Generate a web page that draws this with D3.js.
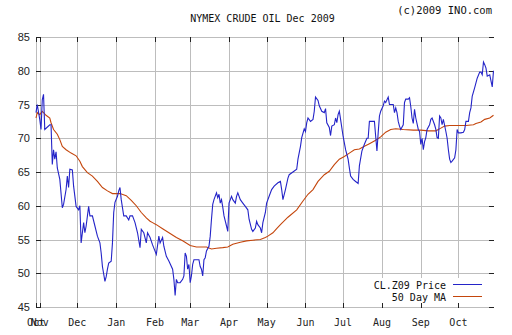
<!DOCTYPE html>
<html><head><meta charset="utf-8">
<script src="https://cdn.jsdelivr.net/npm/d3@7/dist/d3.min.js"></script>
<style>body{margin:0;background:#fff}svg{display:block}</style>
</head><body><div id="chart"></div>
<script>
const title = "NYMEX CRUDE OIL Dec 2009";
const copyright = "(c)2009 INO.com";
const seriesNames = ["CL.Z09 Price", "50 Day MA"];
const yTicks = [45, 50, 55, 60, 65, 70, 75, 80, 85];
const xStart = "2008-10-29", xEnd = "2009-10-29";
const monthTicks = ["2008-10-29","2008-11-01","2008-12-01","2009-01-01","2009-02-01","2009-03-01","2009-04-01","2009-05-01","2009-06-01","2009-07-01","2009-08-01","2009-09-01","2009-10-01"];

const priceDates = ["2008-10-29","2008-10-30","2008-11-01","2008-11-02","2008-11-03","2008-11-04","2008-11-05","2008-11-09","2008-11-10","2008-11-11","2008-11-12","2008-11-13","2008-11-14","2008-11-15","2008-11-17","2008-11-19","2008-11-20","2008-11-22","2008-11-23","2008-11-24","2008-11-25","2008-11-27","2008-11-28","2008-11-30",
"2008-12-02","2008-12-03","2008-12-04","2008-12-05","2008-12-06","2008-12-07","2008-12-08","2008-12-10","2008-12-11","2008-12-13","2008-12-15","2008-12-17","2008-12-19","2008-12-20","2008-12-21","2008-12-23","2008-12-24","2008-12-25","2008-12-26","2008-12-28","2008-12-29","2008-12-30","2008-12-31",
"2009-01-02","2009-01-03","2009-01-04","2009-01-05","2009-01-07","2009-01-09","2009-01-11","2009-01-12","2009-01-14","2009-01-16","2009-01-18","2009-01-20","2009-01-21","2009-01-23","2009-01-25","2009-01-26","2009-01-28","2009-01-30",
"2009-02-02","2009-02-04","2009-02-05","2009-02-07","2009-02-08","2009-02-10","2009-02-12","2009-02-15","2009-02-16","2009-02-17","2009-02-18","2009-02-19","2009-02-21","2009-02-23","2009-02-24","2009-02-25","2009-02-26","2009-02-27","2009-02-28",
"2009-03-01","2009-03-02","2009-03-03","2009-03-04","2009-03-06","2009-03-08","2009-03-09","2009-03-10","2009-03-11","2009-03-12","2009-03-13","2009-03-14","2009-03-16","2009-03-17","2009-03-18","2009-03-19","2009-03-20","2009-03-22","2009-03-23","2009-03-24","2009-03-25","2009-03-26","2009-03-27","2009-03-28","2009-03-30","2009-03-31",
"2009-04-01","2009-04-03","2009-04-04","2009-04-06","2009-04-07","2009-04-08","2009-04-10","2009-04-12","2009-04-14","2009-04-16","2009-04-17","2009-04-19","2009-04-20","2009-04-22","2009-04-23","2009-04-24","2009-04-26","2009-04-27","2009-04-28","2009-04-30",
"2009-05-01","2009-05-03","2009-05-05","2009-05-07","2009-05-10","2009-05-12","2009-05-13","2009-05-14","2009-05-16","2009-05-18","2009-05-19","2009-05-22","2009-05-25","2009-05-26","2009-05-28","2009-05-29","2009-05-31",
"2009-06-01","2009-06-02","2009-06-03","2009-06-05","2009-06-07","2009-06-08","2009-06-09","2009-06-11","2009-06-12","2009-06-14","2009-06-16","2009-06-17","2009-06-18","2009-06-20","2009-06-21","2009-06-22","2009-06-24","2009-06-25","2009-06-26","2009-06-27","2009-06-28","2009-06-29",
"2009-07-01","2009-07-03","2009-07-05","2009-07-06","2009-07-07","2009-07-09","2009-07-11","2009-07-13","2009-07-14","2009-07-16","2009-07-18","2009-07-20","2009-07-21","2009-07-22","2009-07-26","2009-07-27","2009-07-28","2009-07-29","2009-07-30","2009-07-31",
"2009-08-02","2009-08-03","2009-08-04","2009-08-06","2009-08-07","2009-08-10","2009-08-11","2009-08-12","2009-08-13","2009-08-14","2009-08-15","2009-08-16","2009-08-18","2009-08-19","2009-08-20","2009-08-22","2009-08-23","2009-08-24","2009-08-25","2009-08-26","2009-08-27","2009-08-28","2009-08-30","2009-08-31",
"2009-09-01","2009-09-02","2009-09-03","2009-09-04","2009-09-05","2009-09-06","2009-09-08","2009-09-09","2009-09-10","2009-09-12","2009-09-13","2009-09-14","2009-09-15","2009-09-16","2009-09-17","2009-09-18","2009-09-19","2009-09-21","2009-09-22","2009-09-23","2009-09-24","2009-09-25","2009-09-26","2009-09-28","2009-09-29","2009-09-30",
"2009-10-01","2009-10-03","2009-10-05","2009-10-06","2009-10-07","2009-10-09","2009-10-10","2009-10-11","2009-10-12","2009-10-14","2009-10-15","2009-10-16","2009-10-18","2009-10-19","2009-10-20","2009-10-21","2009-10-22","2009-10-23","2009-10-24","2009-10-26","2009-10-27","2009-10-28","2009-10-29"];
const priceValues = [73.8,75.0,72.8,71.3,75.7,76.5,71.3,72.0,72.0,66.1,68.3,66.9,68.0,65.6,63.9,59.7,60.2,62.4,64.4,62.7,65.4,65.3,62.9,59.9,
59.4,60.0,54.5,56.0,57.5,56.0,57.0,59.9,58.5,58.5,57.0,55.5,54.5,53.0,51.0,48.8,49.5,50.6,51.5,51.8,54.5,59.0,60.5,
61.4,62.2,62.7,60.9,58.5,58.5,57.9,58.5,58.5,57.5,56.0,53.8,56.5,56.0,54.5,56.0,55.3,54.2,
52.8,55.5,54.5,55.3,54.0,52.5,51.8,50.6,49.1,46.7,49.1,48.6,48.6,49.1,49.6,53.0,52.5,50.6,51.3,
48.6,49.6,51.3,52.0,52.0,52.0,51.0,50.6,49.6,52.0,52.3,53.3,54.0,55.5,58.0,60.2,60.9,61.9,61.2,61.7,60.4,60.9,59.8,58.5,57.0,56.2,
60.4,61.4,60.9,60.4,61.4,61.9,60.9,60.4,59.9,59.4,58.0,56.5,56.2,56.7,57.7,57.2,56.7,56.0,57.5,59.0,
60.4,61.4,62.4,62.9,63.4,63.6,62.4,60.9,62.4,64.1,64.6,65.0,65.4,66.9,68.8,70.1,71.4,
71.0,72.3,73.0,72.5,72.8,74.0,76.1,75.6,74.8,74.0,73.8,74.4,72.3,71.6,70.4,71.8,72.0,73.0,72.3,73.5,74.0,72.8,
70.3,68.3,66.9,65.6,64.4,63.9,63.6,63.3,65.9,68.1,69.1,70.0,70.0,72.5,72.5,70.3,68.1,70.8,73.3,74.0,
74.8,75.5,75.3,76.1,75.0,75.0,73.8,74.5,73.8,72.5,71.8,71.3,72.0,75.3,75.8,75.8,76.0,74.7,73.0,72.2,74.3,73.0,71.3,71.0,
69.1,70.0,68.3,69.5,70.1,71.3,72.0,72.8,73.0,72.0,71.3,70.1,70.0,73.3,73.0,72.0,72.8,71.0,70.0,68.3,66.9,66.4,66.6,67.1,68.3,71.3,
70.8,70.8,70.9,71.3,72.5,72.5,73.8,74.5,76.2,77.5,78.2,78.9,79.8,79.8,79.4,81.3,80.9,80.4,79.2,79.4,78.5,77.6,80.0];

const maDates = ["2008-10-29","2008-10-30","2008-11-01","2008-11-03","2008-11-06","2008-11-09","2008-11-10","2008-11-12","2008-11-15","2008-11-17","2008-11-19","2008-11-22","2008-11-26","2008-11-30",
"2008-12-03","2008-12-05","2008-12-09","2008-12-13","2008-12-17","2008-12-21","2008-12-25","2008-12-29",
"2009-01-04","2009-01-09","2009-01-13","2009-01-17","2009-01-21","2009-01-25","2009-01-28","2009-01-30",
"2009-02-02","2009-02-07","2009-02-13","2009-02-18","2009-02-23",
"2009-03-01","2009-03-06","2009-03-14","2009-03-18","2009-03-22","2009-03-27","2009-03-31",
"2009-04-04","2009-04-10","2009-04-15","2009-04-20","2009-04-26","2009-04-30",
"2009-05-02","2009-05-06","2009-05-09","2009-05-12","2009-05-18","2009-05-25","2009-05-30",
"2009-06-03","2009-06-07","2009-06-11","2009-06-16","2009-06-20","2009-06-24","2009-06-28",
"2009-07-02","2009-07-06","2009-07-10","2009-07-14","2009-07-18","2009-07-22","2009-07-27","2009-07-31",
"2009-08-04","2009-08-08","2009-08-12","2009-08-18","2009-08-26",
"2009-09-01","2009-09-07","2009-09-13","2009-09-17","2009-09-20","2009-09-24",
"2009-10-07","2009-10-13","2009-10-15","2009-10-19","2009-10-22","2009-10-26","2009-10-29"];
const maValues = [73.0,73.8,73.5,74.0,73.4,73.0,72.3,71.3,70.6,69.8,68.8,68.3,67.8,67.4,
66.6,65.8,64.9,64.4,63.6,62.7,62.2,61.8,
61.8,61.5,60.8,60.0,59.0,58.2,57.7,57.5,
57.2,56.6,55.9,55.3,54.8,
54.1,53.9,53.9,53.6,53.7,53.8,53.9,
54.3,54.6,54.8,54.9,55.0,55.3,
55.5,56.0,56.6,57.2,58.3,59.4,60.7,
61.7,62.4,63.6,64.6,65.1,66.1,66.9,
67.3,67.8,68.3,68.4,68.8,69.2,69.7,70.2,
70.9,71.3,71.4,71.3,71.2,
71.2,71.1,71.1,71.5,71.8,71.9,
71.9,72.0,72.2,72.4,72.8,73.0,73.4];

const W = 512, H = 335;
const parse = d3.utcParse("%Y-%m-%d");
const x = d3.scaleUtc().domain([parse(xStart), parse(xEnd)]).range([36, 493.5]);
const y = d3.scaleLinear().domain([45, 85]).range([307, 37]);
const px = v => Math.round(v) + 0.5;

const svg = d3.select("#chart").append("svg").attr("width", W).attr("height", H);
const mono = "'DejaVu Sans Mono', monospace";
const grid = "#bdbdbd", tickCol = "#222";

// horizontal gridlines
svg.append("g").selectAll("line").data(yTicks).join("line")
  .attr("x1", 36).attr("x2", 493.5)
  .attr("y1", d => px(y(d))).attr("y2", d => px(y(d)))
  .attr("stroke", grid).attr("stroke-width", 1).attr("shape-rendering", "crispEdges");
// vertical gridlines
const mt = monthTicks.map(parse);
svg.append("g").selectAll("line").data(mt).join("line")
  .attr("x1", d => px(x(d))).attr("x2", d => px(x(d)))
  .attr("y1", 37).attr("y2", 308)
  .attr("stroke", grid).attr("stroke-width", 1).attr("shape-rendering", "crispEdges");

// y ticks (left & right, inward) and labels
const yt = svg.append("g");
yt.selectAll("line.l").data(yTicks).join("line").attr("class","l")
  .attr("x1", 36).attr("x2", 41).attr("y1", d => px(y(d))).attr("y2", d => px(y(d)))
  .attr("stroke", tickCol).attr("shape-rendering", "crispEdges");
yt.selectAll("line.r").data(yTicks).join("line").attr("class","r")
  .attr("x1", 489).attr("x2", 494).attr("y1", d => px(y(d))).attr("y2", d => px(y(d)))
  .attr("stroke", tickCol).attr("shape-rendering", "crispEdges");
yt.selectAll("text").data(yTicks).join("text")
  .attr("x", 30).attr("y", d => y(d) + 4)
  .attr("text-anchor", "end").attr("font-family", "'Liberation Sans', Arial, sans-serif")
  .attr("font-size", 11).attr("fill", "#222").text(d => d);

// x ticks (top & bottom, inward) and labels
const xt = svg.append("g");
xt.selectAll("line.t").data(mt).join("line").attr("class","t")
  .attr("x1", d => px(x(d))).attr("x2", d => px(x(d))).attr("y1", 37).attr("y2", 42)
  .attr("stroke", tickCol).attr("shape-rendering", "crispEdges");
xt.selectAll("line.b").data(mt).join("line").attr("class","b")
  .attr("x1", d => px(x(d))).attr("x2", d => px(x(d))).attr("y1", 303).attr("y2", 308)
  .attr("stroke", tickCol).attr("shape-rendering", "crispEdges");
const fmt = d3.utcFormat("%b");
xt.selectAll("text").data(mt).join("text")
  .attr("x", d => x(d)).attr("y", 326)
  .attr("text-anchor", "middle").attr("font-family", mono).attr("font-size", 10)
  .attr("fill", "#222").text(d => fmt(d));

// lines
const line = d3.line().x(d => x(d[0])).y(d => y(d[1]));
const priceData = priceDates.map((d, i) => [parse(d), priceValues[i]]);
const maData = maDates.map((d, i) => [parse(d), maValues[i]]);
const priceColor = "#2424c8", maColor = "#c4460c";
svg.append("path").datum(maData).attr("d", line).attr("fill", "none")
  .attr("stroke", maColor).attr("stroke-width", 1.1);
svg.append("path").datum(priceData).attr("d", line).attr("fill", "none")
  .attr("stroke", priceColor).attr("stroke-width", 1.1);

// titles
svg.append("text").attr("x", 262.5).attr("y", 21.5).attr("text-anchor", "middle")
  .attr("font-family", mono).attr("font-size", 10).attr("fill", "#111").text(title);
svg.append("text").attr("x", 492).attr("y", 14).attr("text-anchor", "end")
  .attr("font-family", mono).attr("font-size", 10.5).attr("fill", "#111").text(copyright);

// legend
const lg = svg.append("g");
lg.append("rect").attr("x", 373).attr("y", 278).attr("width", 115).attr("height", 25).attr("fill", "#fff");
const legendColors = [priceColor, maColor];
seriesNames.forEach((n, i) => {
  const yy = 284.5 + i * 12;
  lg.append("text").attr("x", 446).attr("y", yy + 4.5).attr("text-anchor", "end")
    .attr("font-family", mono).attr("font-size", 10).attr("fill", "#111").text(n);
  lg.append("line").attr("x1", 453).attr("x2", 482).attr("y1", yy).attr("y2", yy)
    .attr("stroke", legendColors[i]).attr("stroke-width", 1).attr("shape-rendering", "crispEdges");
});
</script></body></html>
